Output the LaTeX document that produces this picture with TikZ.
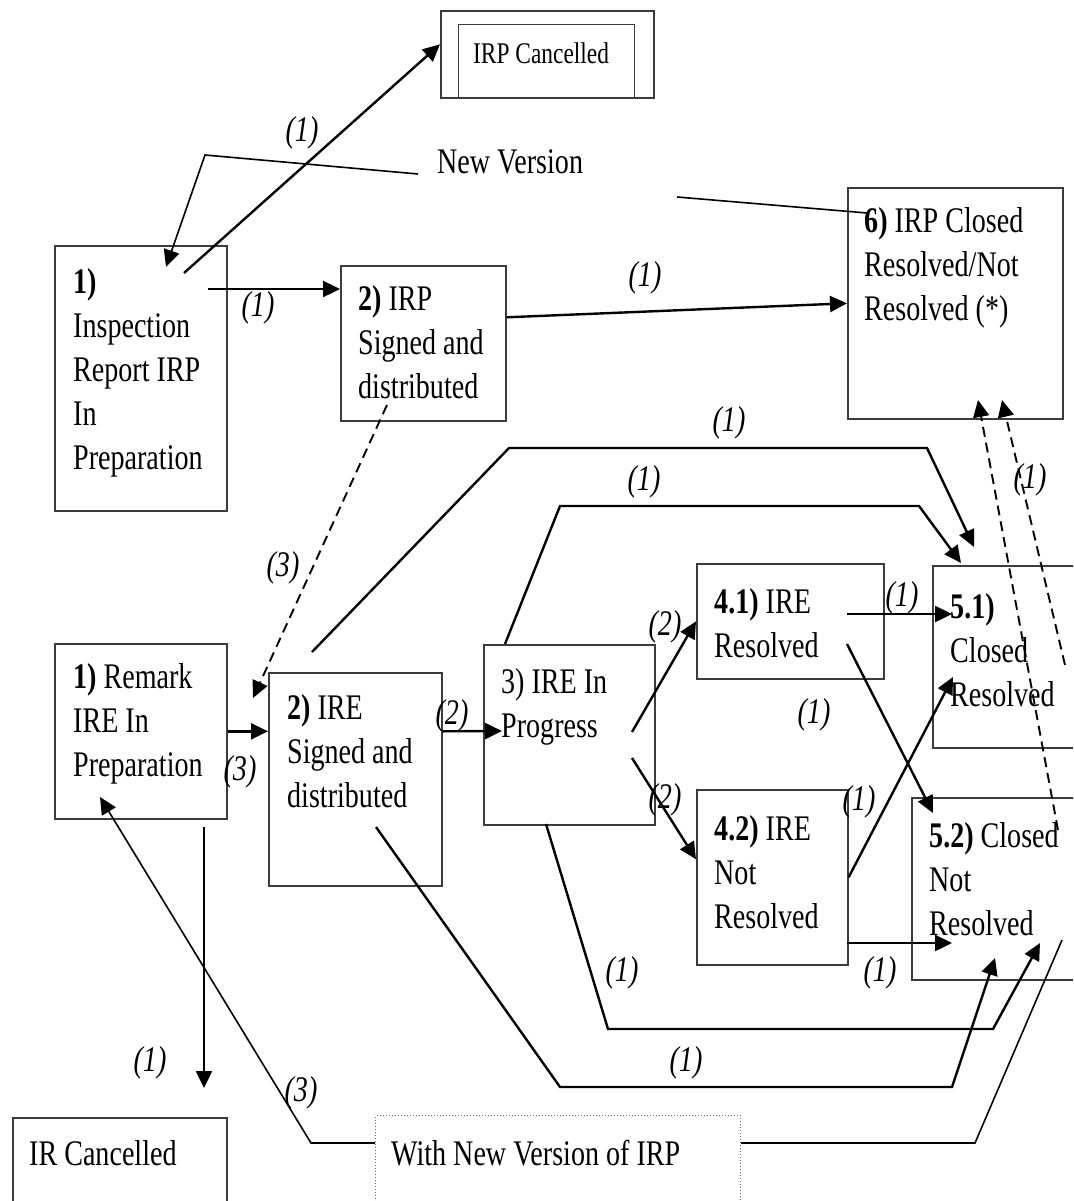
\documentclass[tikz,border=0pt]{standalone}
\usepackage{fontspec}
\setmainfont{Liberation Serif}[FakeStretch=0.78]
\usetikzlibrary{arrows.meta, positioning, calc}
\definecolor{boxGrey}{RGB}{60, 60, 60}
\definecolor{dotGrey}{RGB}{110, 110, 110}

\begin{document}
\begin{tikzpicture}[
    x=1pt, y=-1pt,
    % boxes and their text
    statebox/.style={draw=boxGrey, line width=1.6pt, anchor=north west, inner sep=0pt},
    boxtext/.style={anchor=north west, align=left, inner sep=0pt, font=\fontsize{36}{44}\selectfont},
    % connectors
    tip/.style={-{Triangle[length=17pt, width=16pt]}},
    flow/.style={tip, line width=2.4pt},
    dashflow/.style={flow, line width=1.9pt, dash pattern=on 10pt off 6pt},
    plainline/.style={line width=1.6pt},
    % (1), (2), (3)
    numlabel/.style={inner sep=0pt, font=\fontsize{36}{44}\selectfont\itshape}
]
\useasboundingbox (0,0) rectangle (1073,1201);
\clip (0,0) rectangle (1073,1201);

% --- IRP boxes ---
\node[statebox, minimum width=213pt, minimum height=87pt] (irpcan) at (440,10) {};
\node[statebox, line width=1pt, minimum width=176pt, minimum height=73pt] (irpcanin) at (458,24) {};
\node[boxtext, anchor=west, font=\fontsize{30}{36}\selectfont] (irpcantext) at (473,53) {IRP Cancelled};

\node[boxtext, anchor=west] (newver) at (437,162) {New Version};

\node[statebox, minimum width=172pt, minimum height=265pt] (irp1) at (54,245) {};
\node[boxtext] (irp1text) at (73,268) {\textbf{1)}\\Inspection\\Report IRP\\In\\Preparation};

\node[statebox, minimum width=165pt, minimum height=155pt] (irp2) at (340,265) {};
\node[boxtext] (irp2text) at (358,285) {\textbf{2)} IRP\\Signed and\\distributed};

\node[statebox, minimum width=215pt, minimum height=231pt] (irp6) at (847,187) {};
\node[boxtext] (irp6text) at (864,207) {\textbf{6)} IRP Closed\\Resolved/Not\\Resolved (*)};

% --- IRE boxes ---
\node[statebox, minimum width=172pt, minimum height=175pt] (ire1) at (54,643) {};
\node[boxtext] (ire1text) at (73,663) {\textbf{1)} Remark\\IRE In\\Preparation};

\node[statebox, minimum width=173pt, minimum height=213pt] (ire2) at (268,672) {};
\node[boxtext] (ire2text) at (287,694) {\textbf{2)} IRE\\Signed and\\distributed};

\node[statebox, minimum width=171pt, minimum height=180pt] (ire3) at (483,644) {};
\node[boxtext] (ire3text) at (501,668) {3) IRE In\\Progress};

\node[statebox, minimum width=187pt, minimum height=115pt] (s41) at (696,563) {};
\node[boxtext] (s41text) at (714,588) {\textbf{4.1)} IRE\\Resolved};

\node[statebox, minimum width=151pt, minimum height=175pt] (s42) at (696,789) {};
\node[boxtext] (s42text) at (714,815) {\textbf{4.2)} IRE\\Not\\Resolved};

\node[statebox, minimum width=170pt, minimum height=182pt] (s51) at (932,565) {};
\node[boxtext] (s51text) at (950,593) {\textbf{5.1)}\\Closed\\Resolved};

\node[statebox, minimum width=190pt, minimum height=182pt] (s52) at (911,797) {};
\node[boxtext] (s52text) at (929,822) {\textbf{5.2)} Closed\\Not\\Resolved};

\node[statebox, minimum width=214pt, minimum height=130pt] (ircan) at (12,1117) {};
\node[boxtext, anchor=west] (ircantext) at (29,1153) {IR Cancelled};

\node[statebox, draw=dotGrey, line width=1pt, dotted, minimum width=365pt, minimum height=130pt] (newirp) at (375,1115) {};
\node[boxtext, anchor=west] (newirptext) at (391,1153) {With New Version of IRP};

% --- free ends inside the boxes ---
\coordinate (irp1up) at (184,273);
\coordinate (irp1in) at (166,267);
\coordinate (irp1mid) at (208,289);
\coordinate (nvleft) at (418,174);
\coordinate (nvbend) at (205,155);
\coordinate (nvright) at (677,197);
\coordinate (irp6in) at (867,213);
\coordinate (irp2low) at (387,405);
\coordinate (ire2tip) at (253,698);
\coordinate (ire1in) at (100,797);
\coordinate (ire1low) at (204,827);
\coordinate (ircantip) at (204,1088);
\coordinate (ire2top) at (312,652);
\coordinate (ire2low) at (376,827);
\coordinate (ire3in) at (502,731);
\coordinate (ire3top) at (505,644);
\coordinate (ire3up) at (632,732);
\coordinate (ire3dn) at (632,758);
\coordinate (ire3low) at (546,824);
\coordinate (s41a) at (847,614);
\coordinate (s41b) at (847,644);
\coordinate (s42b) at (847,943);
\coordinate (s51a) at (952,614);
\coordinate (s51b) at (953,677);
\coordinate (s51c) at (974,547);
\coordinate (s51d) at (961,563);
\coordinate (s51r) at (1065,665);
\coordinate (s52a) at (933,813);
\coordinate (s52b) at (952,943);
\coordinate (s52c) at (995,958);
\coordinate (s52d) at (1040,943);
\coordinate (s52e) at (1062,940);
\coordinate (s52r) at (1058,830);
\coordinate (irp6a) at (978,400);
\coordinate (irp6b) at (1002,400);

% --- IRP connectors ---
\draw[flow] (irp1up) -- ($(irpcan.west)+(0,-10)$);
\draw[plainline, tip] (nvleft) -- (nvbend) -- (irp1in);
\draw[plainline] (nvright) -- (irp6in);
\draw[flow] (irp1mid) -- (irp1mid -| irp2.west);
\draw[flow] ($(irp2.east)+(0,-26)$) -- (irp6.west);
\draw[dashflow] (irp2low) -- (ire2tip);

% --- IRE connectors ---
\draw[flow] (ire1.east) -- (ire1.east -| ire2.west);
\draw[flow] (ire1.east -| ire2.east) -- (ire3in);
\draw[flow] (ire3up) -- (s41.west);
\draw[flow] (ire3dn) -- ($(s42.west)+(0,-18)$);
\draw[flow] (s41a) -- (s51a);
\draw[flow] (s41b) -- (s52a);
\draw[flow] (s42.east) -- (s51b);
\draw[flow] (s42b) -- (s52b);
\draw[flow] (ire2top) -- (509,448) -- (927,448) -- (s51c);
\draw[flow] (ire3top) -- (560,506) -- (919,506) -- (s51d);
\draw[flow] (ire3low) -- (608,1029) -- (993,1029) -- (s52d);
\draw[flow] (ire2low) -- (560,1087) -- (952,1087) -- (s52c);
\draw[flow] (ire1low) -- (ircantip);
\draw[plainline, tip] ($(newirp.north west)+(0,28)$) -- (311,1143) -- (ire1in);
\draw[plainline] ($(newirp.north east)+(0,28)$) -- (975,1143) -- (s52e);
\draw[dashflow] (s52r) -- (irp6a);
\draw[dashflow] (s51r) -- (irp6b);

% --- labels ---
\node[numlabel] (l1) at (302,133) {(1)};
\node[numlabel] (l2) at (258,308) {(1)};
\node[numlabel] (l3) at (645,278) {(1)};
\node[numlabel] (l4) at (283,568) {(3)};
\node[numlabel] (l5) at (240,772) {(3)};
\node[numlabel] (l6) at (452,716) {(2)};
\node[numlabel] (l7) at (665,627) {(2)};
\node[numlabel] (l8) at (665,800) {(2)};
\node[numlabel] (l9) at (902,598) {(1)};
\node[numlabel] (l10) at (814,715) {(1)};
\node[numlabel] (l11) at (859,802) {(1)};
\node[numlabel] (l12) at (880,973) {(1)};
\node[numlabel] (l13) at (729,423) {(1)};
\node[numlabel] (l14) at (644,482) {(1)};
\node[numlabel] (l15) at (622,973) {(1)};
\node[numlabel] (l16) at (686,1063) {(1)};
\node[numlabel] (l17) at (150,1063) {(1)};
\node[numlabel] (l18) at (301,1093) {(3)};
\node[numlabel] (l19) at (1030,480) {(1)};

\end{tikzpicture}
\end{document}
